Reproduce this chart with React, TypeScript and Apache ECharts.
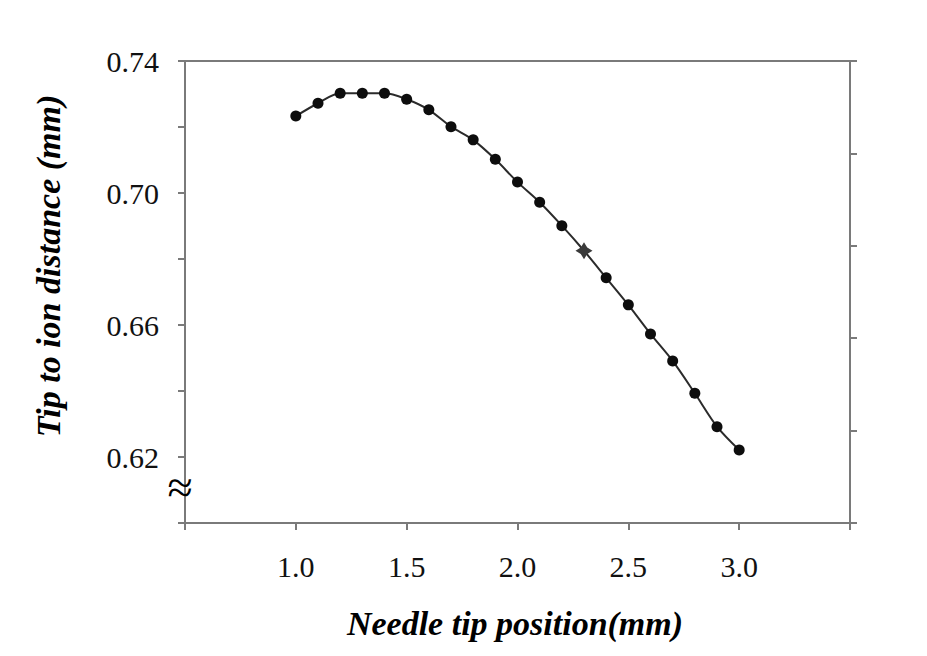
import React, { useEffect, useRef } from "react";
import * as echarts from "echarts";

const needlePositions = [1.0, 1.1, 1.2, 1.3, 1.4, 1.5, 1.6, 1.7, 1.8, 1.9, 2.0, 2.1, 2.2, 2.3, 2.4, 2.5, 2.6, 2.7, 2.8, 2.9, 3.0];
const tipToIon = [0.7233, 0.7272, 0.7302, 0.7302, 0.7302, 0.7284, 0.7252, 0.7201, 0.7161, 0.7102, 0.7033, 0.6972, 0.6901, 0.6825, 0.6743, 0.6661, 0.6573, 0.6491, 0.6393, 0.6292, 0.6221];
const yTickLabels = ["0.62", "0.66", "0.70", "0.74"];
const xTickLabels = ["1.0", "1.5", "2.0", "2.5", "3.0"];
const highlightedX = 2.3;

const SERIF = "'Liberation Serif', 'DejaVu Serif', serif";
const AXIS_COLOR = "#7a7a7a";

export default function App() {
  const ref = useRef<HTMLDivElement>(null);

  useEffect(() => {
    if (!ref.current) return;
    const chart = echarts.init(ref.current, undefined, { renderer: "svg" });

    const starPath =
      "path://M0,-10 L3.8,-3.8 L10,0 L3.8,3.8 L0,10 L-3.8,3.8 L-10,0 L-3.8,-3.8 Z";

    const data = needlePositions.map((x, i) => {
      const item: any = { value: [x, tipToIon[i]] };
      if (Math.abs(x - highlightedX) < 1e-6) {
        item.symbol = starPath;
        item.symbolSize = 17;
        item.itemStyle = { color: "#3a3a3a" };
      }
      return item;
    });

    chart.setOption({
      animation: false,
      backgroundColor: "#ffffff",
      grid: { left: 185, top: 61, right: 77, bottom: 133, containLabel: false },
      xAxis: [
        {
          type: "value",
          position: "bottom",
          min: 0.5,
          max: 3.5,
          interval: 0.5,
          axisLine: { show: true, onZero: false, lineStyle: { color: AXIS_COLOR, width: 2 } },
          axisTick: { show: true, inside: false, length: 7, lineStyle: { color: AXIS_COLOR, width: 2 } },
          splitLine: { show: false },
          axisLabel: {
            show: true,
            margin: 28,
            color: "#111",
            fontFamily: SERIF,
            fontSize: 30,
            showMinLabel: true,
            showMaxLabel: true,
            formatter: (v: number) => {
              const s = v.toFixed(1);
              return xTickLabels.includes(s) ? s : "";
            },
          },
        },
        {
          type: "value",
          position: "top",
          min: 0.5,
          max: 3.5,
          axisLine: { show: true, onZero: false, lineStyle: { color: AXIS_COLOR, width: 2 } },
          axisTick: { show: false },
          axisLabel: { show: false },
          splitLine: { show: false },
        },
      ],
      yAxis: [
        {
          type: "value",
          position: "left",
          min: 0.6,
          max: 0.74,
          interval: 0.02,
          axisLine: { show: true, onZero: false, lineStyle: { color: AXIS_COLOR, width: 2 } },
          axisTick: { show: true, inside: false, length: 7, lineStyle: { color: AXIS_COLOR, width: 2 } },
          splitLine: { show: false },
          axisLabel: {
            show: true,
            margin: 26,
            color: "#111",
            fontFamily: SERIF,
            fontSize: 30,
            showMinLabel: true,
            showMaxLabel: true,
            formatter: (v: number) => {
              const s = v.toFixed(2);
              return yTickLabels.includes(s) ? s : "";
            },
          },
        },
        {
          type: "value",
          position: "right",
          min: 0,
          max: 5,
          interval: 1,
          axisLine: { show: true, onZero: false, lineStyle: { color: AXIS_COLOR, width: 2 } },
          axisTick: { show: true, inside: false, length: 7, lineStyle: { color: AXIS_COLOR, width: 2 } },
          axisLabel: { show: false },
          splitLine: { show: false },
        },
      ],
      series: [
        {
          type: "line",
          xAxisIndex: 0,
          yAxisIndex: 0,
          data,
          smooth: 0.3,
          symbol: "circle",
          symbolSize: 11,
          showSymbol: true,
          lineStyle: { color: "#2b2b2b", width: 2 },
          itemStyle: { color: "#0d0d0d" },
          z: 3,
        },
      ],
      graphic: [
        {
          type: "text",
          x: 180,
          y: 487,
          style: {
            text: "≈",
            font: `46px ${SERIF}`,
            fill: "#000",
            textAlign: "center",
            textVerticalAlign: "middle",
          },
          z: 10,
        },
        {
          type: "text",
          x: 515,
          y: 623,
          style: {
            text: "Needle tip position(mm)",
            font: `italic bold 34px ${SERIF}`,
            fill: "#000",
            textAlign: "center",
            textVerticalAlign: "middle",
          },
        },
        {
          type: "text",
          x: 48,
          y: 266,
          rotation: Math.PI / 2,
          style: {
            text: "Tip to ion distance (mm)",
            font: `italic bold 34px ${SERIF}`,
            fill: "#000",
            textAlign: "center",
            textVerticalAlign: "middle",
          },
        },
      ],
    });

    return () => chart.dispose();
  }, []);

  return (
    <div
      ref={ref}
      style={{ position: "absolute", left: 0, top: 0, width: 927, height: 656 }}
    />
  );
}
